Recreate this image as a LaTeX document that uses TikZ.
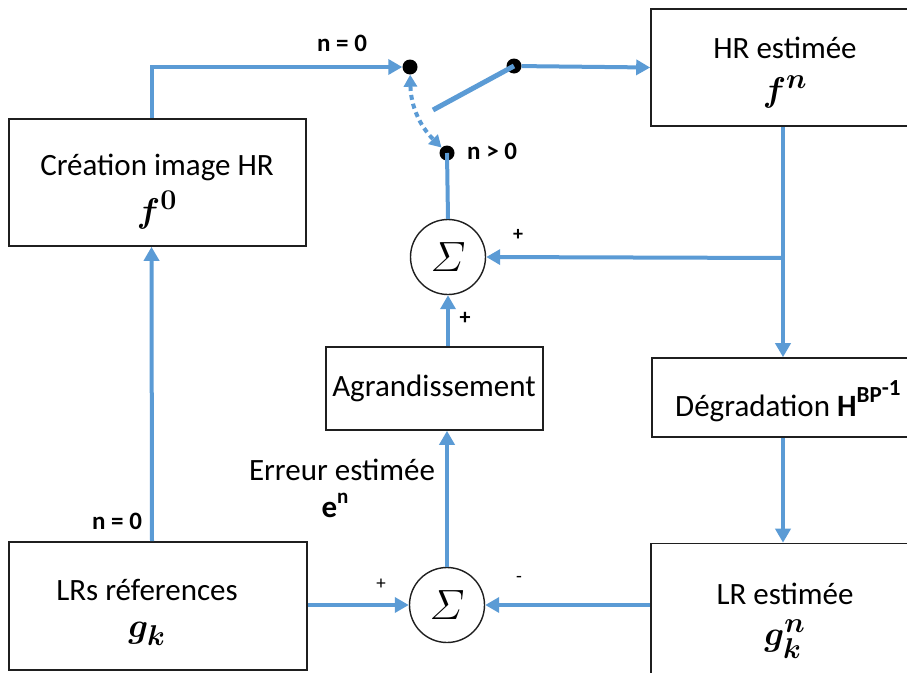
\documentclass[tikz,border=0pt]{standalone}
\usepackage{amsmath,bm,graphicx}
\usepackage{fontspec}
\setmainfont{Carlito}
\usetikzlibrary{arrows.meta,calc}
\definecolor{flow}{HTML}{5B9BD5}
\newcommand{\bigmath}[1]{\scalebox{1.38}{$#1$}}
\begin{document}
\begin{tikzpicture}[x=1pt,y=-1pt,
  box/.style={draw=black!88,line width=1.6pt,inner sep=0pt},
  sumnode/.style={circle,draw=black!88,line width=1.4pt,minimum size=75pt,inner sep=0pt,font=\Huge},
  dotnode/.style={circle,fill=black,minimum size=15pt,inner sep=0pt},
  txt/.style={inner sep=0pt,font=\fontsize{31}{36}\selectfont},
  mathtxt/.style={inner sep=0pt,font=\Huge},
  lbl/.style={inner sep=0pt,font=\fontsize{25}{25}\selectfont\bfseries},
  sgn/.style={inner sep=0pt,font=\fontsize{19}{19}\selectfont},
  flowline/.style={draw=flow,line width=4pt},
  flowarrow/.style={flowline,-{Triangle[length=14pt,width=15pt]}}
]
\useasboundingbox (0,0) rectangle (907,672);
\clip (0,0) rectangle (907,672);

% boxes
\node[box,minimum width=297pt,minimum height=127pt] (cre) at (157.5,182.5) {};
\node[box,minimum width=268pt,minimum height=117pt] (hr) at (785,67.5) {};
\node[box,minimum width=267pt,minimum height=79pt] (deg) at (785.5,397.5) {};
\node[box,minimum width=268pt,minimum height=135pt] (lrest) at (785,611) {};
\node[box,minimum width=298pt,minimum height=128pt] (lrs) at (158,606) {};
\node[box,minimum width=217pt,minimum height=83pt] (agr) at (434.5,388.5) {};

% texts in boxes
\node[txt] (tcre) at (157,167) {Création image HR};
\node[mathtxt] (mcre) at (157,210) {\bigmath{\bm{f}^{\bm{0}}}};
\node[txt] (thr) at (785,48) {HR estimée};
\node[mathtxt] (mhr) at (785,92) {\bigmath{\bm{f}^{\bm{n}}}};
\node[txt,anchor=west] (tdeg) at (675,401) {Dégradation \textbf{H}\raisebox{0.45em}{\fontsize{23}{23}\selectfont\bfseries BP\raisebox{0.3em}{-1}}};
\node[txt] (tagr) at (434,388) {Agrandissement};
\node[txt] (tlrs) at (147,590) {LRs réferences};
\node[mathtxt] (mlrs) at (147,634) {\bigmath{\bm{g}_{\bm{k}}}};
\node[txt] (tlrest) at (785,594) {LR estimée};
\node[mathtxt] (mlrest) at (785,639) {\bigmath{\bm{g}_{\bm{k}}^{\bm{n}}}};

% sums
\node[sumnode] (s1) at (448,257) {\scalebox{1.7}{$\varSigma$}};
\node[sumnode] (s2) at (447,605) {\scalebox{1.7}{$\varSigma$}};

% switch dots
\node[dotnode] (d1) at (410,67) {};
\node[dotnode] (d2) at (514,66) {};
\node[dotnode] (d3) at (447,153) {};
\coordinate (sw) at (433,110);
\coordinate (br) at (783,258);

% connectors
\draw[flowarrow] ([xshift=-6pt]lrs.north) -- ([xshift=-6pt]cre.south);
\draw[flowarrow] ([xshift=-5.5pt]cre.north) |- (d1);
\draw[flowline,line width=5pt] (sw) -- (d2.center);
\draw[flowarrow] (d2) -- (hr.west);
\draw[flow,line width=4pt,dash pattern=on 5pt off 4pt,
  {Triangle[length=12pt,width=13pt]}-{Triangle[length=12pt,width=13pt]}]
  (d1) to[bend right=22] (d3);
\draw[flowline] (s1.north) -- (d3.center);
\draw[flowarrow] (hr.south -| br) -- (deg.north -| br);
\draw[flowarrow] (br) -- (s1.east);
\draw[flowarrow] (s1.south |- agr.north) -- (s1.south);
\draw[flowarrow] (s2.north) -- (s2.north |- agr.south);
\draw[flowarrow] (deg.south -| br) -- (lrest.north -| br);
\draw[flowarrow] (lrs.east |- s2.west) -- (s2.west);
\draw[flowarrow] (lrest.west |- s2.east) -- (s2.east);

% labels
\node[lbl] (l1) at (342,43) {n = 0};
\node[lbl] (l2) at (117,521) {n = 0};
\node[lbl,anchor=west] (l3) at (467,151) {n > 0};
\node[sgn,font=\fontsize{20}{20}\selectfont\bfseries] (p1) at (518,235) {+};
\node[sgn,font=\fontsize{22}{22}\selectfont\bfseries] (p2) at (465,318) {+};
\node[sgn] (p3) at (381,584) {+};
\node[sgn] (m1) at (519,579) {-};
\node[txt] (terr) at (342,470) {Erreur estimée};
\node[txt] (eerr) at (335,505) {\textbf{e}\raisebox{0.45em}{\fontsize{21}{21}\selectfont\bfseries n}};
\end{tikzpicture}
\end{document}
